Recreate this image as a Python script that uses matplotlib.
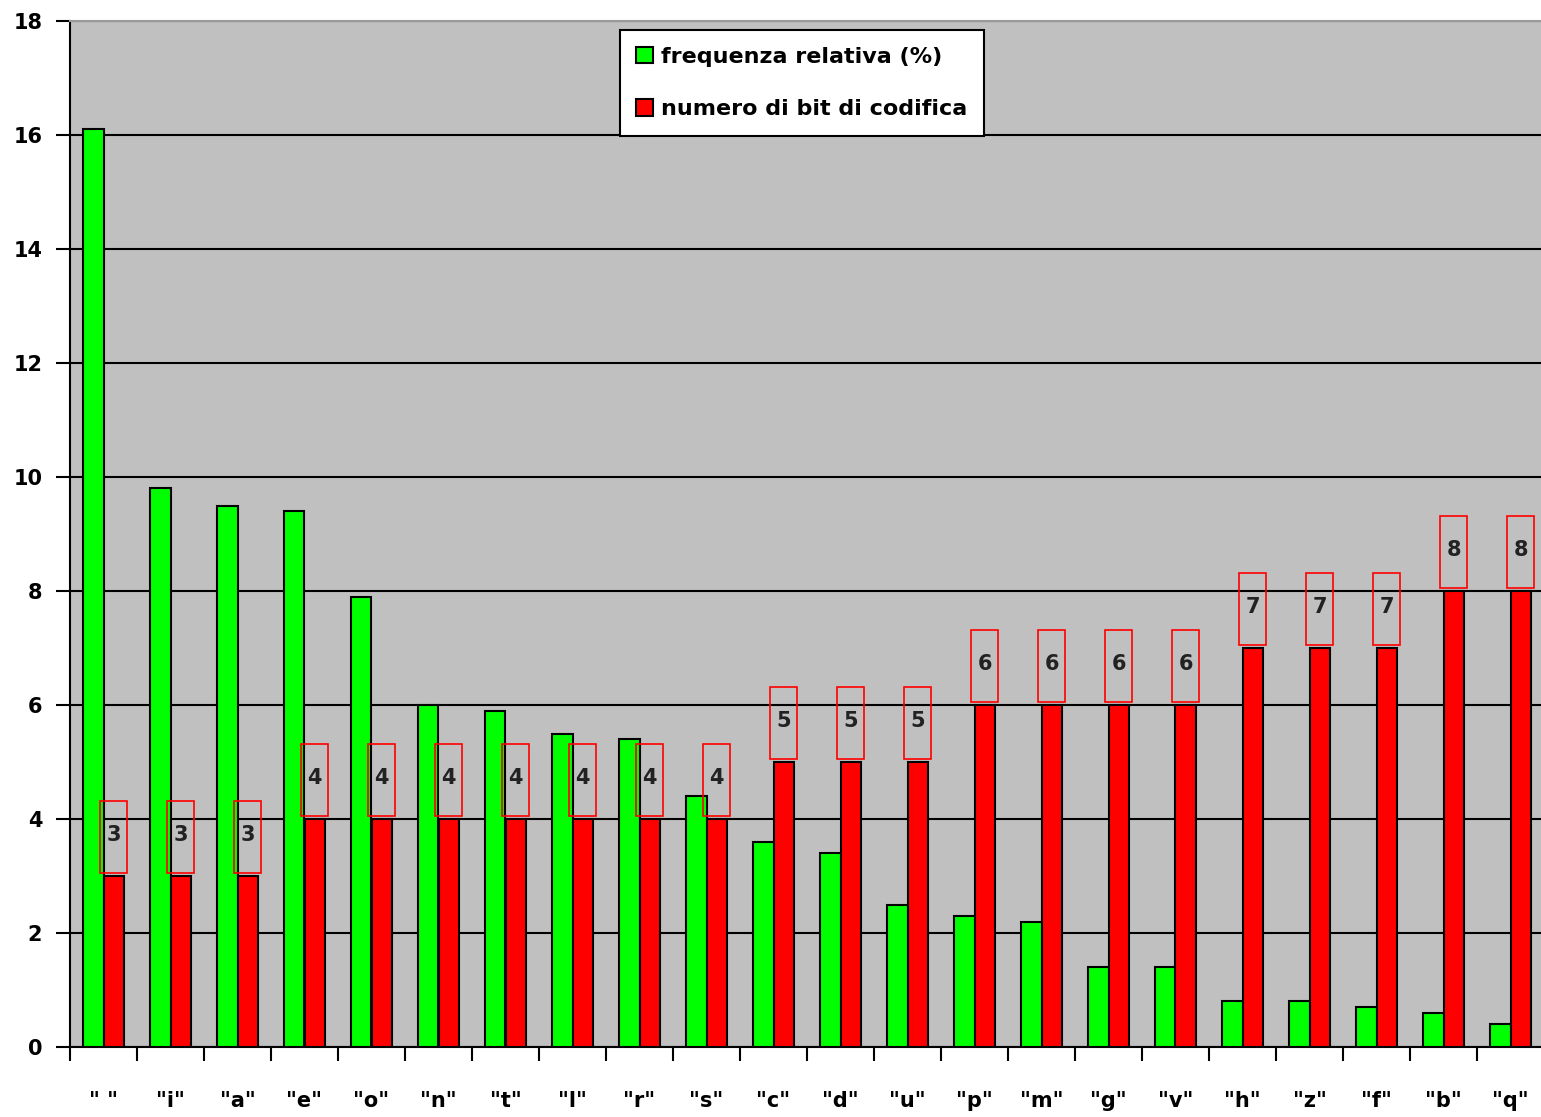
import matplotlib
matplotlib.use("Agg")
import matplotlib.pyplot as plt
from matplotlib.patches import Rectangle
import numpy as np

categories = ['" "', '"i"', '"a"', '"e"', '"o"', '"n"', '"t"', '"l"', '"r"', '"s"', '"c"',
              '"d"', '"u"', '"p"', '"m"', '"g"', '"v"', '"h"', '"z"', '"f"', '"b"', '"q"']
freq = [16.1, 9.8, 9.5, 9.4, 7.9, 6.0, 5.9, 5.5, 5.4, 4.4, 3.6,
        3.4, 2.5, 2.3, 2.2, 1.4, 1.4, 0.8, 0.8, 0.7, 0.6, 0.4]
bits = [3, 3, 3, 4, 4, 4, 4, 4, 4, 4, 5,
        5, 5, 6, 6, 6, 6, 7, 7, 7, 8, 8]
yticks = [0, 2, 4, 6, 8, 10, 12, 14, 16, 18]

plt.rcParams['font.family'] = ['DejaVu Sans']
plt.rcParams['font.weight'] = 'bold'

W, H = 1541, 1117
fig = plt.figure(figsize=(W / 100, H / 100), dpi=100)
ax = fig.add_axes([70 / W, 70 / H, (1544 - 70) / W, (1047 - 21) / H])
ax.set_facecolor('#C0C0C0')

x = np.arange(len(categories))
bw = 0.3
ax.bar(x - bw / 2, freq, width=bw, color='#00FF00', edgecolor='black', linewidth=1.5,
       label='frequenza relativa (%)', zorder=3)
ax.bar(x + bw / 2, bits, width=bw, color='#FF0000', edgecolor='black', linewidth=1.5,
       label='numero di bit di codifica', zorder=3)

for xi, b in zip(x, bits):
    ax.add_patch(Rectangle((xi + bw / 2 - 0.195, b + 0.06), 0.39, 1.25, fill=False,
                           edgecolor='#FF0000', linewidth=1.2, zorder=4))
    ax.text(xi + bw / 2, b + 0.72, str(b), ha='center', va='center', fontsize=15,
            fontweight='bold', color='#222222', zorder=5)

ax.set_xlim(-0.5, len(categories) - 0.5)
ax.set_ylim(0, 18)
ax.set_yticks(yticks)
ax.set_yticklabels([str(v) for v in yticks], fontsize=15, fontweight='bold')
ax.tick_params(axis='y', direction='out', length=10, width=1.5, pad=10, color='black')

ax.set_xticks(x)
ax.set_xticklabels(categories, fontsize=15, fontweight='bold')
ax.set_xticks(np.arange(-0.5, len(categories), 1.0), minor=True)
ax.tick_params(axis='x', which='major', length=0, pad=32)
ax.tick_params(axis='x', which='minor', direction='out', length=10, width=1.5, color='black')

ax.yaxis.grid(True, color='black', linewidth=1.5, zorder=1)
ax.set_axisbelow(True)
for s in ['left', 'bottom']:
    ax.spines[s].set_color('black')
    ax.spines[s].set_linewidth(1.5)
ax.spines['top'].set_color('#999999')
ax.spines['top'].set_linewidth(1.5)
ax.spines['right'].set_visible(False)

leg = ax.legend(loc='upper left', bbox_to_anchor=(0.373, 0.991), frameon=True, fancybox=False,
                edgecolor='black', facecolor='white', framealpha=1, fontsize=16,
                handlelength=0.75, handleheight=0.75, handletextpad=0.35, labelspacing=1.45,
                borderpad=0.75, borderaxespad=0)
leg.get_frame().set_linewidth(1.5)
for t in leg.get_texts():
    t.set_fontweight('bold')

fig.savefig('out.png', dpi=100)
